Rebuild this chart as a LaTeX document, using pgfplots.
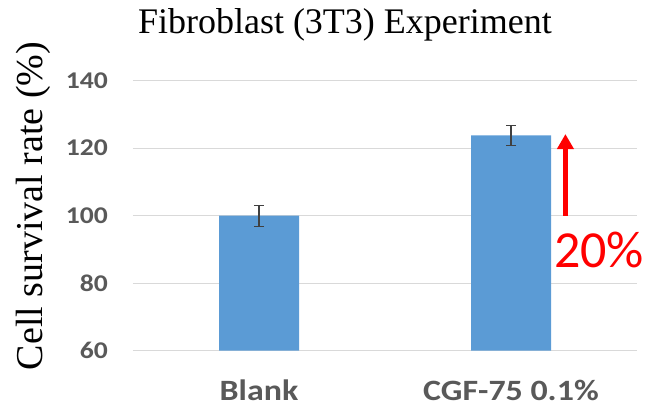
\documentclass[border=0pt]{standalone}
\usepackage{fontspec}
\setmainfont{Liberation Serif}
\newfontfamily\tickfont[FakeStretch=1.15]{Carlito}
\newfontfamily\calfont{Carlito}
\usepackage{pgfplots}
\pgfplotsset{compat=1.18}
\usetikzlibrary{arrows.meta}
\definecolor{barblue}{HTML}{5B9BD5}
\definecolor{gridgray}{HTML}{D9D9D9}
\definecolor{ticktext}{HTML}{595959}
\definecolor{errgray}{HTML}{404040}
\begin{document}
\begin{tikzpicture}
\begin{axis}[
  scale only axis,
  width=504bp, height=270bp,
  xmin=-0.5, xmax=1.5,
  ymin=60, ymax=140,
  ytick={60,80,100,120,140},
  xtick={0,1},
  xticklabels={Blank, CGF-75 0.1\%},
  axis line style={draw=none},
  major tick length=0pt,
  ymajorgrids,
  grid style={gridgray, line width=1.3bp},
  /pgf/number format/assume math mode=true,
  yticklabel style={font=\tickfont\bfseries\fontsize{24bp}{28bp}\selectfont, text=ticktext, anchor=east, inner sep=0pt, xshift=-25bp},
  xticklabel style={font=\tickfont\bfseries\fontsize{29.5bp}{34bp}\selectfont, text=ticktext, anchor=base, inner sep=0pt, yshift=-49.3bp},
  title={Fibroblast (3T3) Experiment},
  title style={font=\fontsize{36bp}{40bp}\selectfont, at={(axis description cs:0.4206,1)}, anchor=base, yshift=41.7bp, inner sep=0pt},
  ylabel={Cell survival rate (\%)},
  ylabel style={font=\fontsize{38bp}{42bp}\selectfont, at={(axis description cs:-0.1786,0.536)}, anchor=base, inner sep=0pt},
  clip=false,
]
\addplot[ybar, bar width=80bp, fill=barblue, draw=none,
  error bars/.cd, y dir=both, y explicit,
  error bar style={errgray, line width=1.2bp},
  error mark options={rotate=90, mark size=5bp, errgray, line width=1.2bp}]
  coordinates {(0,100) +- (0,3.1) (1,123.8) +- (0,3.0)};
\addplot[red, line width=5bp, -{Triangle[width=16bp,length=15bp]}]
  coordinates {(1.216,100) (1.216,124.2)};
\node[anchor=base west, inner sep=0pt, text=red, font=\calfont\fontsize{52bp}{56bp}\selectfont] at (axis cs:1.17,84.8) {20\%};
\coordinate (sw) at (rel axis cs:0,0);
\coordinate (ne) at (rel axis cs:1,1);
\end{axis}
\pgfresetboundingbox
\path[use as bounding box] ([xshift=-133bp,yshift=-57.3bp]sw) rectangle ([xshift=14bp,yshift=80.7bp]ne);
\end{tikzpicture}
\end{document}
